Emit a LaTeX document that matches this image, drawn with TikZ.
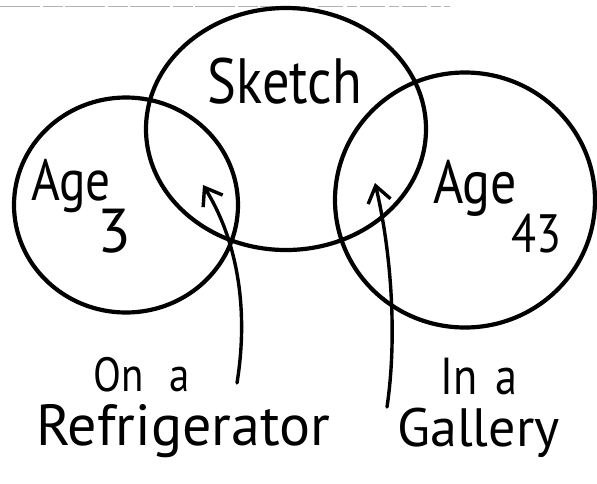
\documentclass[tikz,border=0pt]{standalone}
\usepackage{fontspec}
\usetikzlibrary{shapes.geometric,arrows.meta}
\newfontfamily\hand{PT Sans}[FakeStretch=0.85]
\newfontfamily\handwide{PT Sans}

\begin{document}
\begin{tikzpicture}[x=1pt,y=-1pt,
    ring/.style={ellipse,draw,line width=4.2pt,inner sep=0pt},
    tag/.style={inner sep=0pt,anchor=base west,font=\hand},
    pointer/.style={line width=3.4pt,line cap=round,-{Straight Barb[length=16pt,width=23pt,line width=3.4pt]}}]

\useasboundingbox (0,0) rectangle (597,483);

% Scan line along the top
\draw[gray!60,line width=0.9pt,dash pattern=on 40pt off 3pt on 20pt off 2pt] (0,6) -- (305,6);
\draw[gray!60,line width=0.9pt,dash pattern=on 25pt off 4pt on 10pt off 3pt] (318,6) -- (450,6);

% Circles
\node[ring,minimum width=224pt,minimum height=215pt] (young) at (126,205) {};
\node[ring,minimum width=280pt,minimum height=242pt] (sketch) at (286,129) {};
\node[ring,minimum width=260pt,minimum height=255pt] (old) at (465,200) {};

% Labels in the circles
\node[tag,anchor=base,font=\hand\fontsize{64}{64}\selectfont] (sketchtxt) at (285,103) {Sketch};
\node[tag,font=\hand\fontsize{58}{58}\selectfont] (ageyoung) at (31,200) {Age};
\node[tag,font=\handwide\fontsize{62}{62}\selectfont] (three) at (97,252) {3};
\node[tag,font=\hand\fontsize{61}{61}\selectfont] (ageold) at (433,203) {Age};
\node[tag,font=\hand\fontsize{54}{54}\selectfont] (fortythree) at (511,252) {43};

% Labels below
\node[tag,font=\hand\fontsize{48}{48}\selectfont] (ona) at (93,391) {On\hspace{26pt}a};
\node[tag,font=\handwide\fontsize{58}{58}\selectfont] (fridge) at (36,445) {Refrigerator};
\node[tag,font=\hand\fontsize{52}{52}\selectfont] (ina) at (440,394) {In\hspace{18pt}a};
\node[tag,font=\handwide\fontsize{54}{54}\selectfont] (gallery) at (397,446) {Gallery};

% Arrow ends
\coordinate (fridge tail) at (237,383);
\coordinate (fridge tip) at (203,185);
\coordinate (gallery tail) at (387,407);
\coordinate (gallery tip) at (375,183);

% Arrows
\draw[pointer] (fridge tail) .. controls (248,315) and (240,245) .. (fridge tip);
\draw[pointer] (gallery tail) .. controls (397,340) and (392,255) .. (gallery tip);

\end{tikzpicture}
\end{document}
